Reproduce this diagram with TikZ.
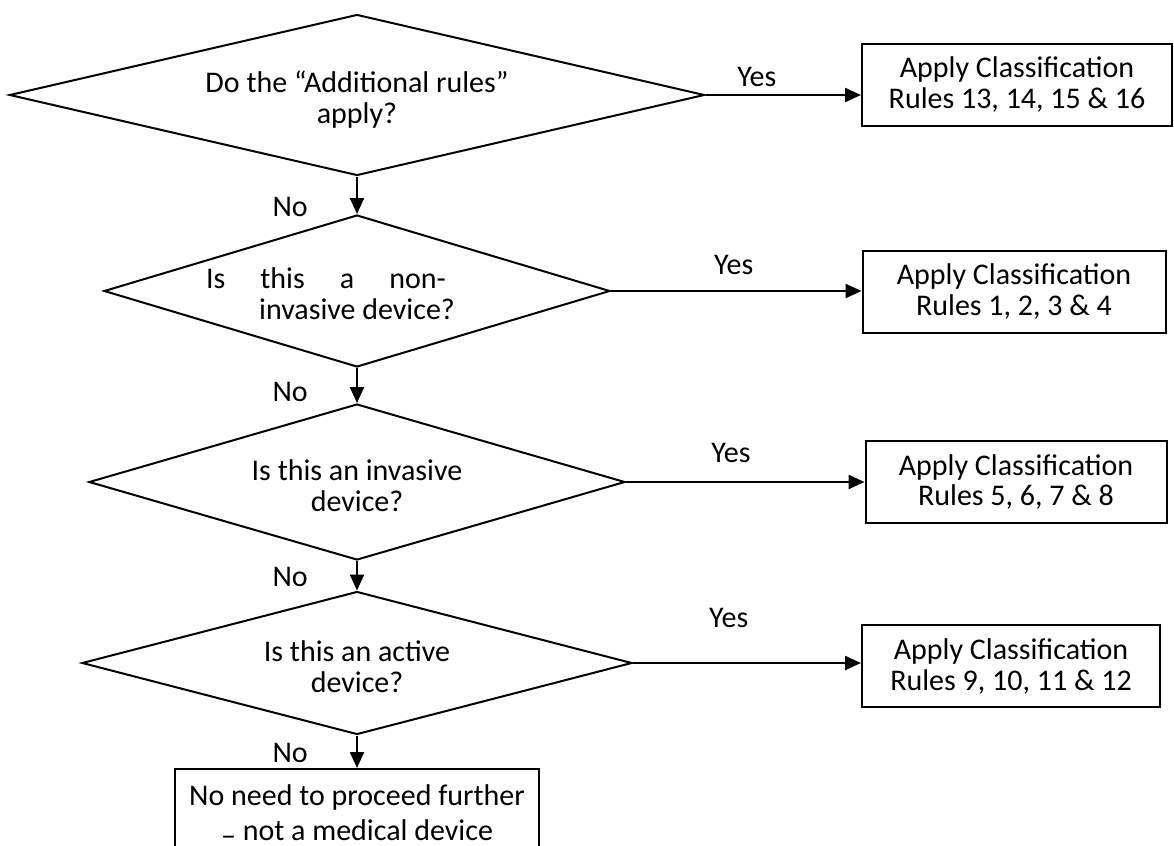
\documentclass[tikz,border=0pt]{standalone}
\usepackage{fontspec}
\setmainfont{Carlito}
\usetikzlibrary{shapes.geometric}
\usetikzlibrary{arrows.meta}
\tikzset{
        flownode/.style={align=center,inner sep=0pt,font=\fontsize{15}{15.5}\selectfont},
        % Question diamonds (their text is a node of its own)
        node_question/.style={diamond, draw=black, line width=1pt, inner sep=0pt},
        % Rule boxes
        node_rules/.style={flownode, rectangle, draw=black, line width=1pt, minimum height=41pt},
        % Last box
        node_stop/.style={flownode, rectangle, draw=black, line width=1pt, font=\fontsize{15}{17.5}\selectfont},
        % Yes / No
        node_answer/.style={flownode}
}
\begin{document}
\begin{tikzpicture}[
            x=0.5pt, y=-0.5pt,
            >={Triangle[length=8pt,width=7pt]},
            line width=1.2pt
        ]
    \useasboundingbox (0,0) rectangle (1174,846);
    \clip (0,0) rectangle (1174,846);

    % Questions
    \node[node_question, minimum width=347.5pt, minimum height=80.5pt] (q1) at (357,95) {};
    \node[node_question, minimum width=253pt, minimum height=76pt] (q2) at (357,291) {};
    \node[node_question, minimum width=268pt, minimum height=78pt] (q3) at (357,482) {};
    \node[node_question, minimum width=275pt, minimum height=71.5pt] (q4) at (357,663) {};

    \node[flownode] (t1) at (357,100) {Do the “Additional rules”\\apply?};
    \node[flownode] (t2) at (357,294) {\makebox[151pt][l]{\makebox[120pt][s]{Is this a non-}}\\invasive device?};
    \node[flownode] (t3) at (357,486) {Is this an invasive\\device?};
    \node[flownode] (t4) at (357,667) {Is this an active\\device?};

    % Rules
    \node[node_rules, minimum width=155pt] (r1) at (1017,85) {Apply Classification\\Rules 13, 14, 15 \& 16};
    \node[node_rules, minimum width=151.5pt] (r2) at (1014,292) {Apply Classification\\Rules 1, 2, 3 \& 4};
    \node[node_rules, minimum width=150.5pt] (r3) at (1016,482) {Apply Classification\\Rules 5, 6, 7 \& 8};
    \node[node_rules, minimum width=149pt] (r4) at (1011,666) {Apply Classification\\Rules 9, 10, 11 \& 12};

    \node[node_stop, minimum width=182pt, minimum height=46pt] (stop) at (357,815) {No need to proceed further\\\raisebox{-0.3ex}{–} not a medical device};

    % Yes
    \draw[->] (q1.east) -- (q1.east -| r1.west) node[node_answer, pos=0.33, yshift=9pt] {Yes};
    \draw[->] (q2.east) -- (q2.east -| r2.west) node[node_answer, pos=0.49, yshift=13pt] {Yes};
    \draw[->] (q3.east) -- (q3.east -| r3.west) node[node_answer, pos=0.44, yshift=14.5pt] {Yes};
    \draw[->] (q4.east) -- (q4.east -| r4.west) node[node_answer, pos=0.42, yshift=22.5pt] {Yes};

    % No
    \draw[->] (q1.south) -- (q2.north) node[node_answer, pos=0.82, left=24pt] {No};
    \draw[->] (q2.south) -- (q3.north) node[node_answer, pos=0.68, left=24pt] {No};
    \draw[->] (q3.south) -- (q4.north) node[node_answer, pos=0.53, left=24pt] {No};
    \draw[->] (q4.south) -- (stop.north) node[node_answer, pos=0.53, left=24pt] {No};
\end{tikzpicture}
\end{document}
